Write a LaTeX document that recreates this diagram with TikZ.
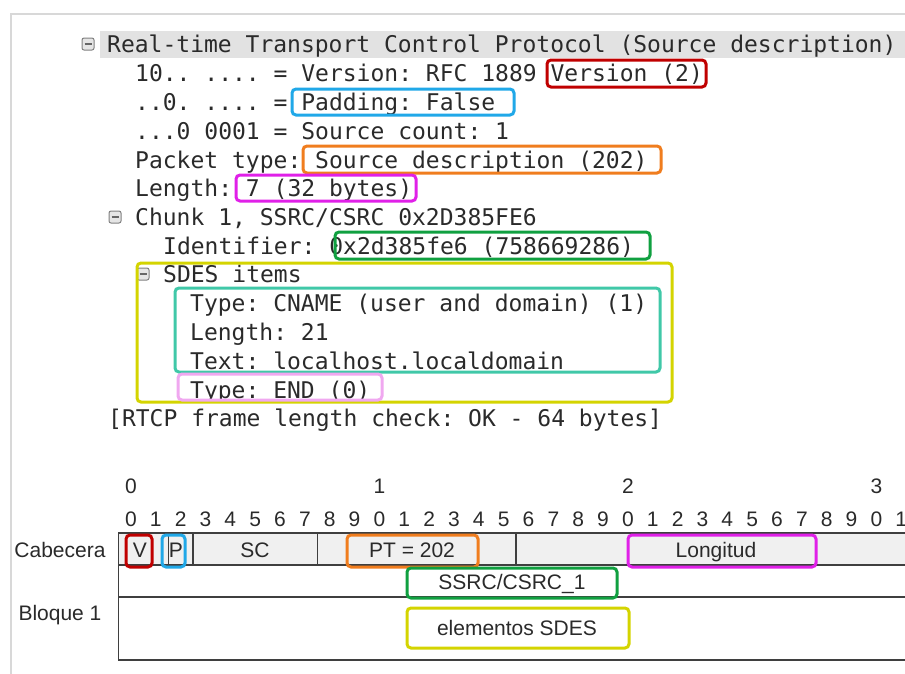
\documentclass[tikz,border=0pt]{standalone}
\usepackage{fontspec}
\setmainfont{Liberation Sans}
\newfontfamily\capturemono{DejaVu Sans Mono}
\usetikzlibrary{positioning}

\definecolor{hlred}{HTML}{C00000}
\definecolor{hlblue}{HTML}{20A8E8}
\definecolor{hlorange}{HTML}{F07D1E}
\definecolor{hlmagenta}{HTML}{E020E8}
\definecolor{hlgreen}{HTML}{10A040}
\definecolor{hlyellow}{HTML}{D4D400}
\definecolor{hlteal}{HTML}{40C8A8}
\definecolor{hlpink}{HTML}{F0A8F0}
\definecolor{rowgray}{HTML}{F0F0F0}
\definecolor{bargray}{HTML}{E2E2E2}
\definecolor{framegray}{HTML}{D8D8D8}
\definecolor{txt}{HTML}{2A2A2A}

\begin{document}
\begin{tikzpicture}[x=1pt, y=-1pt]
    \tikzset{mono/.style={anchor=base west, inner sep=0pt, text=txt,
                          font=\capturemono\fontsize{23}{23}\selectfont\frenchspacing},
             label/.style={anchor=base, inner sep=0pt, text=txt,
                           font=\fontsize{21}{21}\selectfont},
             toggle/.style={draw=gray, fill=gray!20, rounded corners=2pt,
                            minimum size=12pt, inner sep=0pt, line width=1pt},
             hlbox/.style={line width=3pt, rounded corners=4pt},
             grid/.style={draw=txt!90, line width=1.4pt}}

    \useasboundingbox (0,0) rectangle (905,673);
    \clip (0,0) rectangle (905,673);

    % capture window
    \draw[framegray, line width=2pt] (11,700) |- (920,14);
    \fill[bargray] (100,31) rectangle (920,58);

    % decoded packet tree
    \draw node[toggle] (tog1) at (88,44) {};
    \draw node[toggle] (tog2) at (115,217) {};
    \draw node[toggle] (tog3) at (143,274) {};
    \foreach \t in {tog1,tog2,tog3}
        \draw[gray!80!black, line width=1.3pt] ([xshift=3pt]\t.west) -- ([xshift=-3pt]\t.east);

    \draw node[mono] (rtcp) at (107,52) {Real-time Transport Control Protocol (Source description)};
    \draw node[mono] (version) at (135,81) {10.. .... = Version: RFC 1889 Version (2)};
    \draw node[mono] (padding) at (135,110) {..0. .... = Padding: False};
    \draw node[mono] (count) at (135,139) {...0 0001 = Source count: 1};
    \draw node[mono] (ptype) at (135,168) {Packet type: Source description (202)};
    \draw node[mono] (length) at (135,196) {Length: 7 (32 bytes)};
    \draw node[mono] (chunk) at (135,225) {Chunk 1, SSRC/CSRC 0x2D385FE6};
    \draw node[mono] (ident) at (163,254) {Identifier: 0x2d385fe6 (758669286)};
    \draw node[mono] (sdes) at (163,282) {SDES items};
    \draw node[mono] (cname) at (190,311) {Type: CNAME (user and domain) (1)};
    \draw node[mono] (itemlen) at (190,340) {Length: 21};
    \draw node[mono] (itemtext) at (190,369) {Text: localhost.localdomain};
    \draw node[mono] (endtype) at (190,398) {Type: END (0)};
    \draw node[mono] (check) at (108,426) {[RTCP frame length check: OK - 64 bytes]};

    \draw[hlbox, hlred] (547,60) rectangle (706,87);
    \draw[hlbox, hlblue] (292,89) rectangle (514,115);
    \draw[hlbox, hlorange] (303,146) rectangle (661,173);
    \draw[hlbox, hlmagenta] (236,175) rectangle (416,201);
    \draw[hlbox, hlgreen] (335,232) rectangle (650,259);
    \draw[hlbox, hlyellow] (137,263) rectangle (672,402);
    \draw[hlbox, hlteal] (175,288) rectangle (660,372);
    \draw[hlbox, hlpink] (178,374) rectangle (382,400);

    % bit ruler
    \foreach \k in {0,1,2,3}
        \draw node[label] (dec\k) at ({118.5+24.85*(10*\k+0.5)},493.5) {\k};
    \foreach \i in {0,...,31} {
        \pgfmathtruncatemacro\d{mod(\i,10)}
        \draw node[label] (bit\i) at ({118.5+24.85*(\i+0.5)},526.5) {\d};
    }

    % packet layout
    \fill[rowgray] (118.5,533) rectangle (920,565);
    \draw[grid] (920,533) -- (118.5,533) -- (118.5,660) -- (920,660);
    \draw[grid] (118.5,565) -- (920,565);
    \draw[grid] (118.5,597) -- (920,597);
    \foreach \b in {2,3,8,16}
        \draw[grid] ({118.5+24.85*\b},533) -- ({118.5+24.85*\b},565);

    \draw node[label] (header) at (60,557) {Cabecera};
    \draw node[label] (block) at (60,620.5) {Bloque 1};
    \draw node[label] (vfield) at (140,557) {V};
    \draw node[label] (pfield) at (176,557) {P};
    \draw node[label] (scfield) at (255,557) {SC};
    \draw node[label] (ptfield) at (412,557) {PT = 202};
    \draw node[label] (lenfield) at (716,557) {Longitud};
    \draw node[label] (ssrc) at (512,589.5) {SSRC/CSRC\_1};
    \draw node[label] (items) at (517,635.5) {elementos SDES};

    \draw[hlbox, hlred] (126,535) rectangle (152,567);
    \draw[hlbox, hlblue] (162,535) rectangle (185,567);
    \draw[hlbox, hlorange] (347,535) rectangle (478,567);
    \draw[hlbox, hlmagenta] (628,535) rectangle (816,567);
    \draw[hlbox, hlgreen] (407,568) rectangle (617,598);
    \draw[hlbox, hlyellow] (407,608) rectangle (629,648);
\end{tikzpicture}
\end{document}
